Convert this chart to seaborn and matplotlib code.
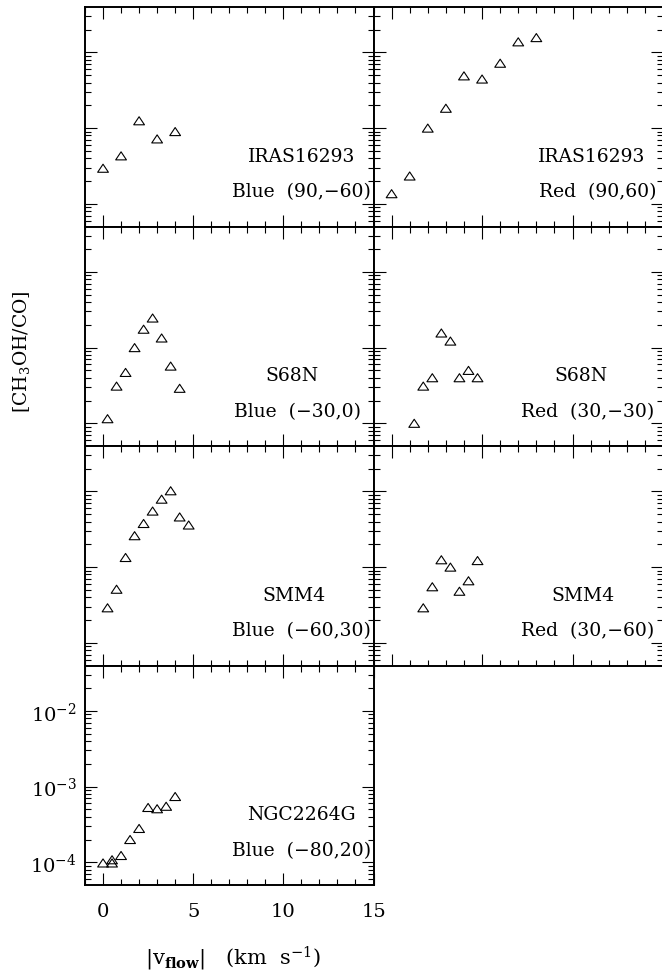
import numpy as np
import pandas as pd
import matplotlib
matplotlib.use("Agg")
import matplotlib.pyplot as plt
from matplotlib.path import Path
from matplotlib.ticker import LogLocator, MultipleLocator, NullFormatter
import seaborn as sns

# ---- data: |v_flow| (km/s) and CH3OH/CO abundance ratio per outflow lobe ----
iras_blue_v = [0, 1, 2, 3, 4]
iras_blue_r = [2.95e-4, 4.3e-4, 1.25e-3, 7.2e-4, 9.0e-4]

iras_red_v = [0, 1, 2, 3, 4, 5, 6, 7, 8]
iras_red_r = [1.36e-4, 2.33e-4, 1.0e-3, 1.83e-3, 4.9e-3, 4.45e-3, 7.2e-3, 1.38e-2, 1.57e-2]

s68n_blue_v = [0.25, 0.75, 1.25, 1.75, 2.25, 2.75, 3.25, 3.75, 4.25]
s68n_blue_r = [1.15e-4, 3.1e-4, 4.7e-4, 1.0e-3, 1.75e-3, 2.46e-3, 1.34e-3, 5.7e-4, 2.9e-4]

s68n_red_v = [1.25, 1.75, 2.25, 2.75, 3.25, 3.75, 4.25, 4.75]
s68n_red_r = [1.0e-4, 3.1e-4, 4.0e-4, 1.56e-3, 1.22e-3, 4.0e-4, 5.0e-4, 4.0e-4]

smm4_blue_v = [0.25, 0.75, 1.25, 1.75, 2.25, 2.75, 3.25, 3.75, 4.25, 4.75]
smm4_blue_r = [2.9e-4, 5.1e-4, 1.34e-3, 2.6e-3, 3.77e-3, 5.5e-3, 7.9e-3, 1.02e-2, 4.6e-3, 3.6e-3]

smm4_red_v = [1.75, 2.25, 2.75, 3.25, 3.75, 4.25, 4.75]
smm4_red_r = [2.9e-4, 5.5e-4, 1.25e-3, 1.0e-3, 4.8e-4, 6.6e-4, 1.22e-3]

ngc_blue_v = [0, 0.5, 0.5, 1.0, 1.5, 2.0, 2.5, 3.0, 3.5, 4.0]
ngc_blue_r = [9.8e-5, 1.08e-4, 9.8e-5, 1.23e-4, 2.0e-4, 2.8e-4, 5.3e-4, 5.1e-4, 5.5e-4, 7.4e-4]

source_names = ["IRAS16293", "IRAS16293", "S68N", "S68N", "SMM4", "SMM4", "NGC2264G"]
lobe_labels = ["Blue  (90,\u221260)", "Red  (90,60)", "Blue  (\u221230,0)", "Red  (30,\u221230)",
               "Blue  (\u221260,30)", "Red  (30,\u221260)", "Blue  (\u221280,20)"]

x_ticks = [0, 5, 10, 15]
y_ticks = [1e-4, 1e-3, 1e-2]

panels = [
    (iras_blue_v, iras_blue_r), (iras_red_v, iras_red_r),
    (s68n_blue_v, s68n_blue_r), (s68n_red_v, s68n_red_r),
    (smm4_blue_v, smm4_blue_r), (smm4_red_v, smm4_red_r),
    (ngc_blue_v, ngc_blue_r),
]

# ---- style ----
sns.set_style("ticks")
plt.rcParams["font.family"] = ["DejaVu Serif"]
plt.rcParams["mathtext.fontset"] = "dejavuserif"
plt.rcParams["font.size"] = 13.5
for key in ["text.color", "axes.labelcolor", "xtick.color", "ytick.color",
            "xtick.labelcolor", "ytick.labelcolor"]:
    plt.rcParams[key] = "black"

W, H = 662, 979
fig = plt.figure(figsize=(W / 100, H / 100), dpi=100)

col_edges = [(85, 373.5), (373.5, 663)]
row_edges = [(8, 227.5), (227.5, 447), (447, 666.5), (666.5, 886)]

# open, slightly flattened triangle marker
tri = Path([(0, 0.75), (-1, -0.75), (1, -0.75), (0, 0.75)],
           [Path.MOVETO, Path.LINETO, Path.LINETO, Path.CLOSEPOLY])

# label x-centres (axes fraction) for source name and lobe line
name_x = [0.752, 0.753, 0.717, 0.717, 0.723, 0.722, 0.749]
lobe_x = [0.749, 0.773, 0.735, 0.741, 0.749, 0.741, 0.749]

for i, (v, r) in enumerate(panels):
    row, col = divmod(i, 2)
    x0, x1 = col_edges[col]
    top, bot = row_edges[row]
    ax = fig.add_axes([x0 / W, 1 - bot / H, (x1 - x0) / W, (bot - top) / H])
    df = pd.DataFrame({"v": v, "ratio": r})
    sns.scatterplot(data=df, x="v", y="ratio", ax=ax, marker=tri, s=60,
                    facecolor="none", edgecolor="black", linewidth=0.8,
                    legend=False, zorder=3)
    ax.set_yscale("log")
    ax.set_xlim(-1, 15)
    ax.set_ylim(10 ** -4.3, 10 ** -1.4)
    ax.set_xlabel("")
    ax.set_ylabel("")
    ax.set_xticks(x_ticks)
    ax.xaxis.set_minor_locator(MultipleLocator(1))
    ax.set_yticks(y_ticks)
    ax.yaxis.set_minor_locator(LogLocator(base=10, subs=np.arange(2, 10)))
    ax.yaxis.set_minor_formatter(NullFormatter())
    ax.tick_params(which="both", direction="in", top=True, right=True,
                   bottom=True, left=True, color="black", width=0.8)
    ax.tick_params(which="major", length=8.5)
    ax.tick_params(which="minor", length=4.5)
    ax.tick_params(axis="x", which="major", pad=12, labelsize=14)
    ax.tick_params(axis="y", which="major", pad=6, labelsize=14)
    if i != 6:
        ax.tick_params(labelbottom=False)
    if col != 0 or i != 6:
        ax.tick_params(labelleft=False)
    for s in ax.spines.values():
        s.set_linewidth(1.4)
        s.set_color("black")
    ax.text(name_x[i], 0.323, source_names[i], transform=ax.transAxes,
            ha="center", va="center", fontsize=13.5)
    ax.text(lobe_x[i], 0.16, lobe_labels[i], transform=ax.transAxes,
            ha="center", va="center", fontsize=13.5)

fig.text(22 / W, 1 - 352 / H, r"[CH$_3$OH/CO]", rotation=90,
         ha="center", va="center", fontsize=13.5)
fig.text(233 / W, 1 - 959 / H,
         r"$|\mathrm{v}_{\mathbf{flow}}|$" + "   (km  s$^{-1}$)",
         ha="center", va="center", fontsize=15)

fig.savefig("out.png", dpi=100, facecolor="white")
